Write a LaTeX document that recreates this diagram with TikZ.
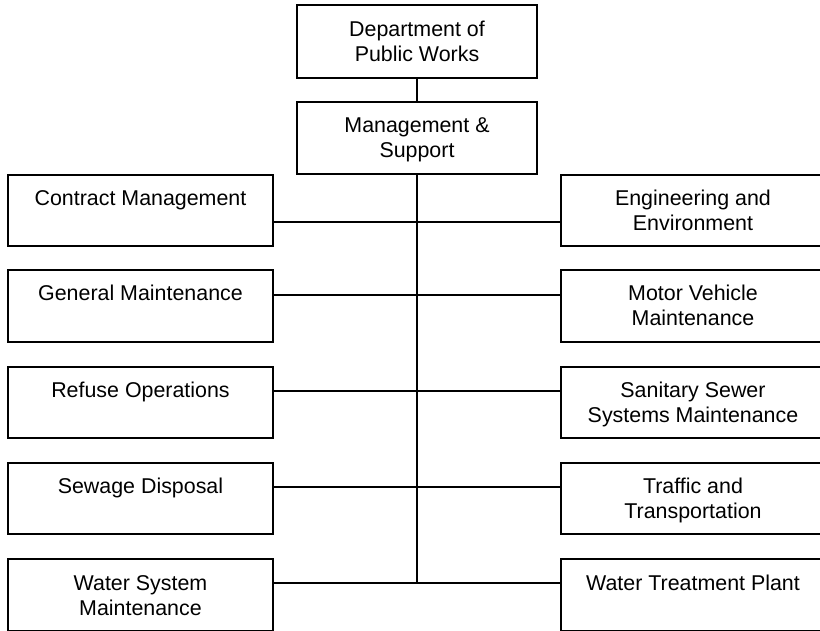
\documentclass[tikz,border=0pt]{standalone}
\usepackage{fontspec}
\setmainfont{Liberation Sans}
\begin{document}
\begin{tikzpicture}[x=1pt,y=-1pt,
  unit/.style={draw=black,line width=1.6pt,rectangle,inner sep=0pt,minimum width=#1},
  lbox/.style={unit=265pt,minimum height=71.5pt},
  rbox/.style={unit=264pt,minimum height=71.5pt},
  tbox/.style={unit=240pt,minimum height=72.5pt},
  % captions are anchored on the baseline of their last line
  caption/.style={anchor=base,align=center,inner sep=0pt,font=\fontsize{21.4}{25}\selectfont},
  link/.style={line width=1.6pt}]
\useasboundingbox (0,0) rectangle (820,631);

% top of the chart
\node[tbox] (dpw) at (417,41.5) {};
\node[caption] (dpwt) at (417,62) {Department of\\Public Works};
\node[tbox] (ms) at (417,138) {};
\node[caption] (mst) at (417,158) {Management \&\\Support};

% left column
\node[lbox] (cm) at (140.5,210.5) {};
\node[lbox] (gm) at (140.5,306) {};
\node[lbox] (ro) at (140.5,402.5) {};
\node[lbox] (sd) at (140.5,498.5) {};
\node[lbox] (ws) at (140.5,595) {};
\node[caption] (cmt) at (140.5,205.5) {Contract Management};
\node[caption] (gmt) at (140.5,301) {General Maintenance};
\node[caption] (rot) at (140.5,397.5) {Refuse Operations};
\node[caption] (sdt) at (140.5,493.5) {Sewage Disposal};
\node[caption] (wst) at (140.5,615.5) {Water System\\Maintenance};

% right column
\node[rbox] (ee) at (693,210.5) {};
\node[rbox] (mv) at (693,306) {};
\node[rbox] (ss) at (693,402.5) {};
\node[rbox] (tt) at (693,498.5) {};
\node[rbox] (wt) at (693,595) {};
\node[caption] (eet) at (693,230.5) {Engineering and\\Environment};
\node[caption] (mvt) at (693,326) {Motor Vehicle\\Maintenance};
\node[caption] (sst) at (693,422.5) {Sanitary Sewer\\Systems Maintenance};
\node[caption] (ttt) at (693,518.5) {Traffic and\\Transportation};
\node[caption] (wtt) at (693,590.5) {Water Treatment Plant};

% branch levels on the trunk
\coordinate (b1) at (417,222);
\coordinate (b2) at (417,295);
\coordinate (b3) at (417,391);
\coordinate (b4) at (417,487);
\coordinate (b5) at (417,583);

\draw[link] (dpw.south) -- (ms.north);
\draw[link] (ms.south) -- (b5);
\draw[link] (cm.east |- b1) -- (ee.west |- b1);
\draw[link] (gm.east |- b2) -- (mv.west |- b2);
\draw[link] (ro.east |- b3) -- (ss.west |- b3);
\draw[link] (sd.east |- b4) -- (tt.west |- b4);
\draw[link] (ws.east |- b5) -- (wt.west |- b5);
\end{tikzpicture}
\end{document}
